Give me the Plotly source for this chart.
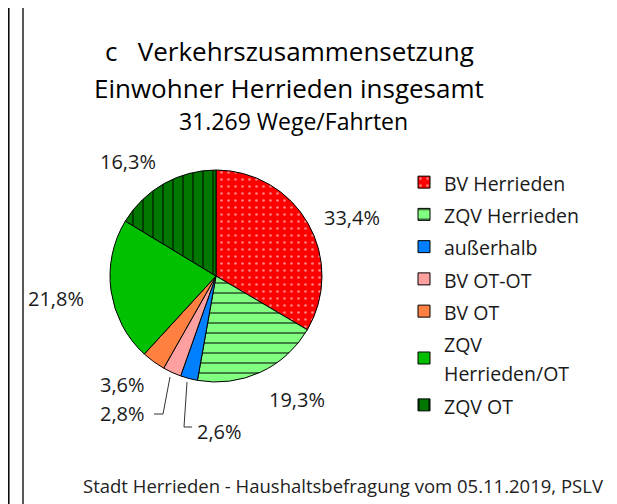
import plotly.graph_objects as go

categories = ["BV Herrieden", "ZQV Herrieden", "außerhalb", "BV OT-OT", "BV OT",
              "ZQV<br>Herrieden/OT", "ZQV OT"]
shares = [33.4, 19.3, 2.6, 2.8, 3.6, 21.8, 16.3]
colors = ["#FF0000", "#80FF80", "#0080FF", "#FFA0A0", "#FF8040", "#00C000", "#007800"]
patterns = [".", "-", "", "", "", "", "|"]
pattern_fg = ["#FFFFFF", "#000000", "#000000", "#000000", "#000000", "#000000", "#000000"]
title_lines = ["c   Verkehrszusammensetzung", "Einwohner Herrieden insgesamt"]
subtitle = "31.269 Wege/Fahrten"
footer = "Stadt Herrieden - Haushaltsbefragung vom 05.11.2019, PSLV"

FONT = "Open Sans"
# page body has an 8px margin; the figure is sized to fit the 617x504 window
OX, OY = 8, 8
W, H = 609, 496

def px(x):
    return (x - OX) / W

def py(y):
    return 1 - (y - OY) / H

legend_labels = [f'<span style="font-size:19.5px">{c}</span>' for c in categories]

fig = go.Figure()
fig.add_trace(go.Pie(
    labels=legend_labels,
    values=shares,
    sort=False,
    direction="clockwise",
    rotation=0,
    textinfo="none",
    hoverinfo="skip",
    marker=dict(
        colors=colors,
        line=dict(color="#000000", width=1),
        pattern=dict(shape=patterns, fgcolor=pattern_fg, size=[7, 10, 8, 8, 8, 8, 10],
                     solidity=[0.12, 0.2, 0.3, 0.3, 0.3, 0.3, 0.2], fillmode="overlay"),
    ),
    domain=dict(x=[px(110), px(322)], y=[py(382), py(170)]),
    showlegend=True,
))

def fmt(v):
    return f"{v:.1f}%".replace(".", ",")

label_pos = [(352, 218), (297, 399), (219, 431), (122, 413), (122, 384), (56, 298), (128, 161)]
annotations = []
for v, (x, y) in zip(shares, label_pos):
    annotations.append(dict(x=px(x), y=py(y), xref="paper", yref="paper", text=fmt(v),
                            showarrow=False, font=dict(family=FONT, size=20, color="#1a1a1a"),
                            xanchor="center", yanchor="middle"))

annotations += [
    dict(x=px(289), y=py(51), xref="paper", yref="paper", text=title_lines[0], showarrow=False,
         font=dict(family=FONT, size=26, color="#000000"), xanchor="center", yanchor="middle"),
    dict(x=px(289), y=py(88), xref="paper", yref="paper", text=title_lines[1], showarrow=False,
         font=dict(family=FONT, size=26, color="#000000"), xanchor="center", yanchor="middle"),
    dict(x=px(293), y=py(121), xref="paper", yref="paper", text=subtitle, showarrow=False,
         font=dict(family=FONT, size=23, color="#000000"), xanchor="center", yanchor="middle"),
    dict(x=px(606), y=py(485), xref="paper", yref="paper", text=footer, showarrow=False,
         font=dict(family=FONT, size=18.5, color="#222222"), xanchor="right", yanchor="middle"),
]

shapes = [
    dict(type="line", xref="paper", yref="paper", x0=px(8.8), x1=px(8.8), y0=0, y1=1,
         line=dict(color="#000000", width=1.5)),
    dict(type="path", xref="paper", yref="paper",
         path=f"M {px(23)} 0 L {px(23)} {py(5.5)} L {px(613)} {py(5.5)} L {px(613)} 0",
         line=dict(color="#222222", width=1.5)),
    dict(type="path", xref="paper", yref="paper",
         path=f"M {px(170)} {py(377)} L {px(163)} {py(414)} L {px(154)} {py(414)}",
         line=dict(color="#333333", width=1)),
    dict(type="path", xref="paper", yref="paper",
         path=f"M {px(187)} {py(382)} L {px(184)} {py(427)} L {px(192)} {py(427)}",
         line=dict(color="#333333", width=1)),
]

fig.update_layout(
    width=W, height=H,
    margin=dict(l=0, r=0, t=0, b=0),
    paper_bgcolor="#FFFFFF",
    plot_bgcolor="#FFFFFF",
    font=dict(family=FONT, color="#1a1a1a"),
    legend=dict(x=px(404), y=py(161), xanchor="left", yanchor="top",
                font=dict(family=FONT, size=22.5, color="#1a1a1a"),
                bgcolor="rgba(0,0,0,0)", traceorder="normal"),
    annotations=annotations,
    shapes=shapes,
)

fig.write_html("out.html")
